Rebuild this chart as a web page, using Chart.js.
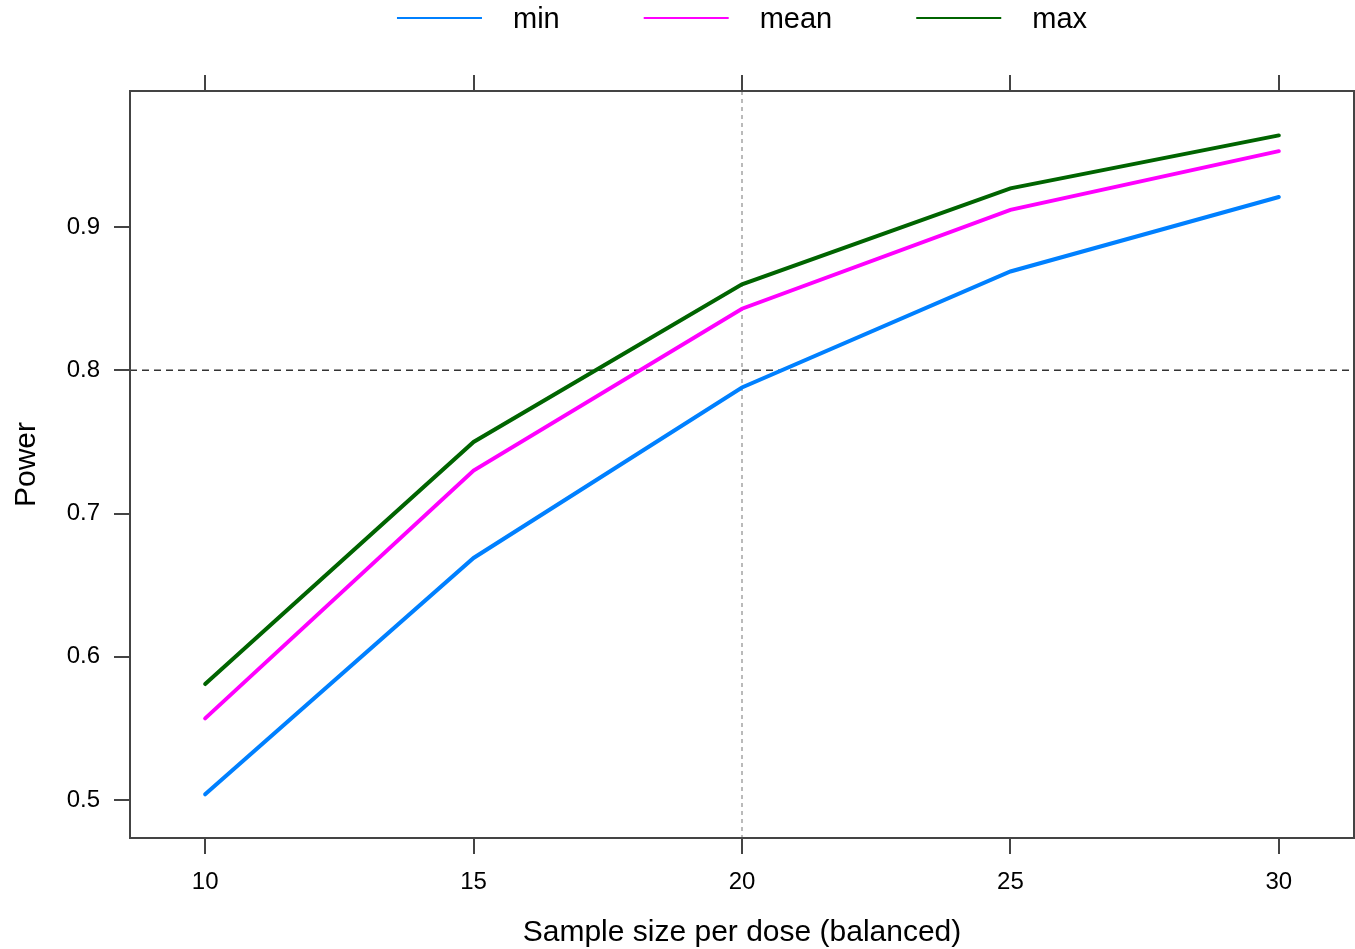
<!DOCTYPE html>
<html>
<head>
<meta charset="utf-8">
<script src="https://cdn.jsdelivr.net/npm/chart.js@4"></script>
<style>
  html, body { margin: 0; padding: 0; background: #fff; }
  #wrap { width: 1355px; height: 949px; }
</style>
</head>
<body>
<div id="wrap"><canvas id="power"></canvas></div>
<script>
// sample size per dose (balanced)
const sizes = [10, 15, 20, 25, 30];
const powerMin = [0.504, 0.669, 0.788, 0.869, 0.921];
const powerMean = [0.557, 0.730, 0.843, 0.912, 0.953];
const powerMax = [0.581, 0.750, 0.860, 0.927, 0.964];
const xTicks = [10, 15, 20, 25, 30];
const yTicks = [0.5, 0.6, 0.7, 0.8, 0.9];
const refPower = 0.8;
const refSize = 20;

const FONT = 'Liberation Sans, Arial, sans-serif';
const AXIS = '#444444';

const toPoints = vals => sizes.map((s, i) => ({ x: s, y: vals[i] }));

// frame, reference lines and the key on top
const decor = {
    id: 'decor',
    beforeDatasetsDraw(chart) {
        const { ctx, chartArea: a, scales } = chart;
        const py = scales.y.getPixelForValue(refPower);
        const px = scales.x.getPixelForValue(refSize);
        ctx.save();
        ctx.strokeStyle = '#333';
        ctx.lineWidth = 1.5;
        ctx.setLineDash([7, 5]);
        ctx.beginPath();
        ctx.moveTo(a.left, py);
        ctx.lineTo(a.right, py);
        ctx.stroke();
        ctx.strokeStyle = '#777';
        ctx.lineWidth = 1;
        ctx.setLineDash([4, 4]);
        ctx.beginPath();
        ctx.moveTo(px, a.top);
        ctx.lineTo(px, a.bottom);
        ctx.stroke();
        ctx.restore();
    },
    afterDraw(chart) {
        const { ctx, chartArea: a } = chart;
        ctx.save();
        ctx.strokeStyle = AXIS;
        ctx.lineWidth = 2;
        ctx.strokeRect(a.left, a.top, a.right - a.left, a.bottom - a.top);

        // key
        ctx.font = '29px ' + FONT;
        ctx.textBaseline = 'middle';
        const lineW = 85, gap = 31, sep = 84;
        const items = chart.data.datasets;
        let total = 0;
        items.forEach((d, i) => {
            total += lineW + gap + ctx.measureText(d.label).width;
            if (i < items.length - 1) total += sep;
        });
        let x = (a.left + a.right) / 2 - total / 2;
        const y = 18;
        items.forEach(d => {
            ctx.strokeStyle = d.borderColor;
            ctx.lineWidth = 2;
            ctx.beginPath();
            ctx.moveTo(x, y);
            ctx.lineTo(x + lineW, y);
            ctx.stroke();
            x += lineW + gap;
            ctx.fillStyle = '#000';
            ctx.fillText(d.label, x, y + 2);
            x += ctx.measureText(d.label).width + sep;
        });
        ctx.restore();
    }
};

const tickGrid = {
    drawOnChartArea: false,
    drawTicks: true,
    tickLength: 16,
    color: AXIS,
    lineWidth: 2
};

new Chart(document.getElementById('power'), {
    type: 'line',
    data: {
        datasets: [
            { label: 'min', data: toPoints(powerMin), borderColor: '#0080ff' },
            { label: 'mean', data: toPoints(powerMean), borderColor: '#ff00ff' },
            { label: 'max', data: toPoints(powerMax), borderColor: '#006400' }
        ]
    },
    options: {
        responsive: true,
        maintainAspectRatio: false,
        animation: false,
        layout: { padding: { right: 1 } },
        elements: {
            line: { borderWidth: 4, tension: 0, borderCapStyle: 'round' },
            point: { radius: 0 }
        },
        scales: {
            x: {
                type: 'linear',
                position: 'bottom',
                min: 8.6,
                max: 31.4,
                afterBuildTicks: s => { s.ticks = xTicks.map(v => ({ value: v })); },
                afterFit: s => { s.height = 111; },
                grid: tickGrid,
                border: { display: false },
                ticks: { color: '#000', padding: 14, font: { family: FONT, size: 24 } },
                title: {
                    display: true,
                    text: 'Sample size per dose (balanced)',
                    color: '#000',
                    font: { family: FONT, size: 30, lineHeight: 1.1 },
                    padding: { top: 0, bottom: 0 }
                }
            },
            x2: {
                type: 'linear',
                position: 'top',
                min: 8.6,
                max: 31.4,
                afterBuildTicks: s => { s.ticks = xTicks.map(v => ({ value: v })); },
                afterFit: s => { s.height = 91; },
                grid: tickGrid,
                border: { display: false },
                ticks: { display: false }
            },
            y: {
                min: 0.4735,
                max: 0.995,
                afterBuildTicks: s => { s.ticks = yTicks.map(v => ({ value: v })); },
                afterFit: s => { s.width = 130; },
                grid: tickGrid,
                border: { display: false },
                ticks: {
                    color: '#000',
                    padding: 14,
                    font: { family: FONT, size: 24 },
                    callback: v => v.toFixed(1)
                },
                title: {
                    display: true,
                    text: 'Power',
                    color: '#000',
                    font: { family: FONT, size: 30, lineHeight: 1.1 },
                    padding: { top: 10, bottom: 0 }
                }
            }
        },
        plugins: {
            legend: { display: false },
            tooltip: { enabled: false }
        }
    },
    plugins: [decor]
});
</script>
</body>
</html>
